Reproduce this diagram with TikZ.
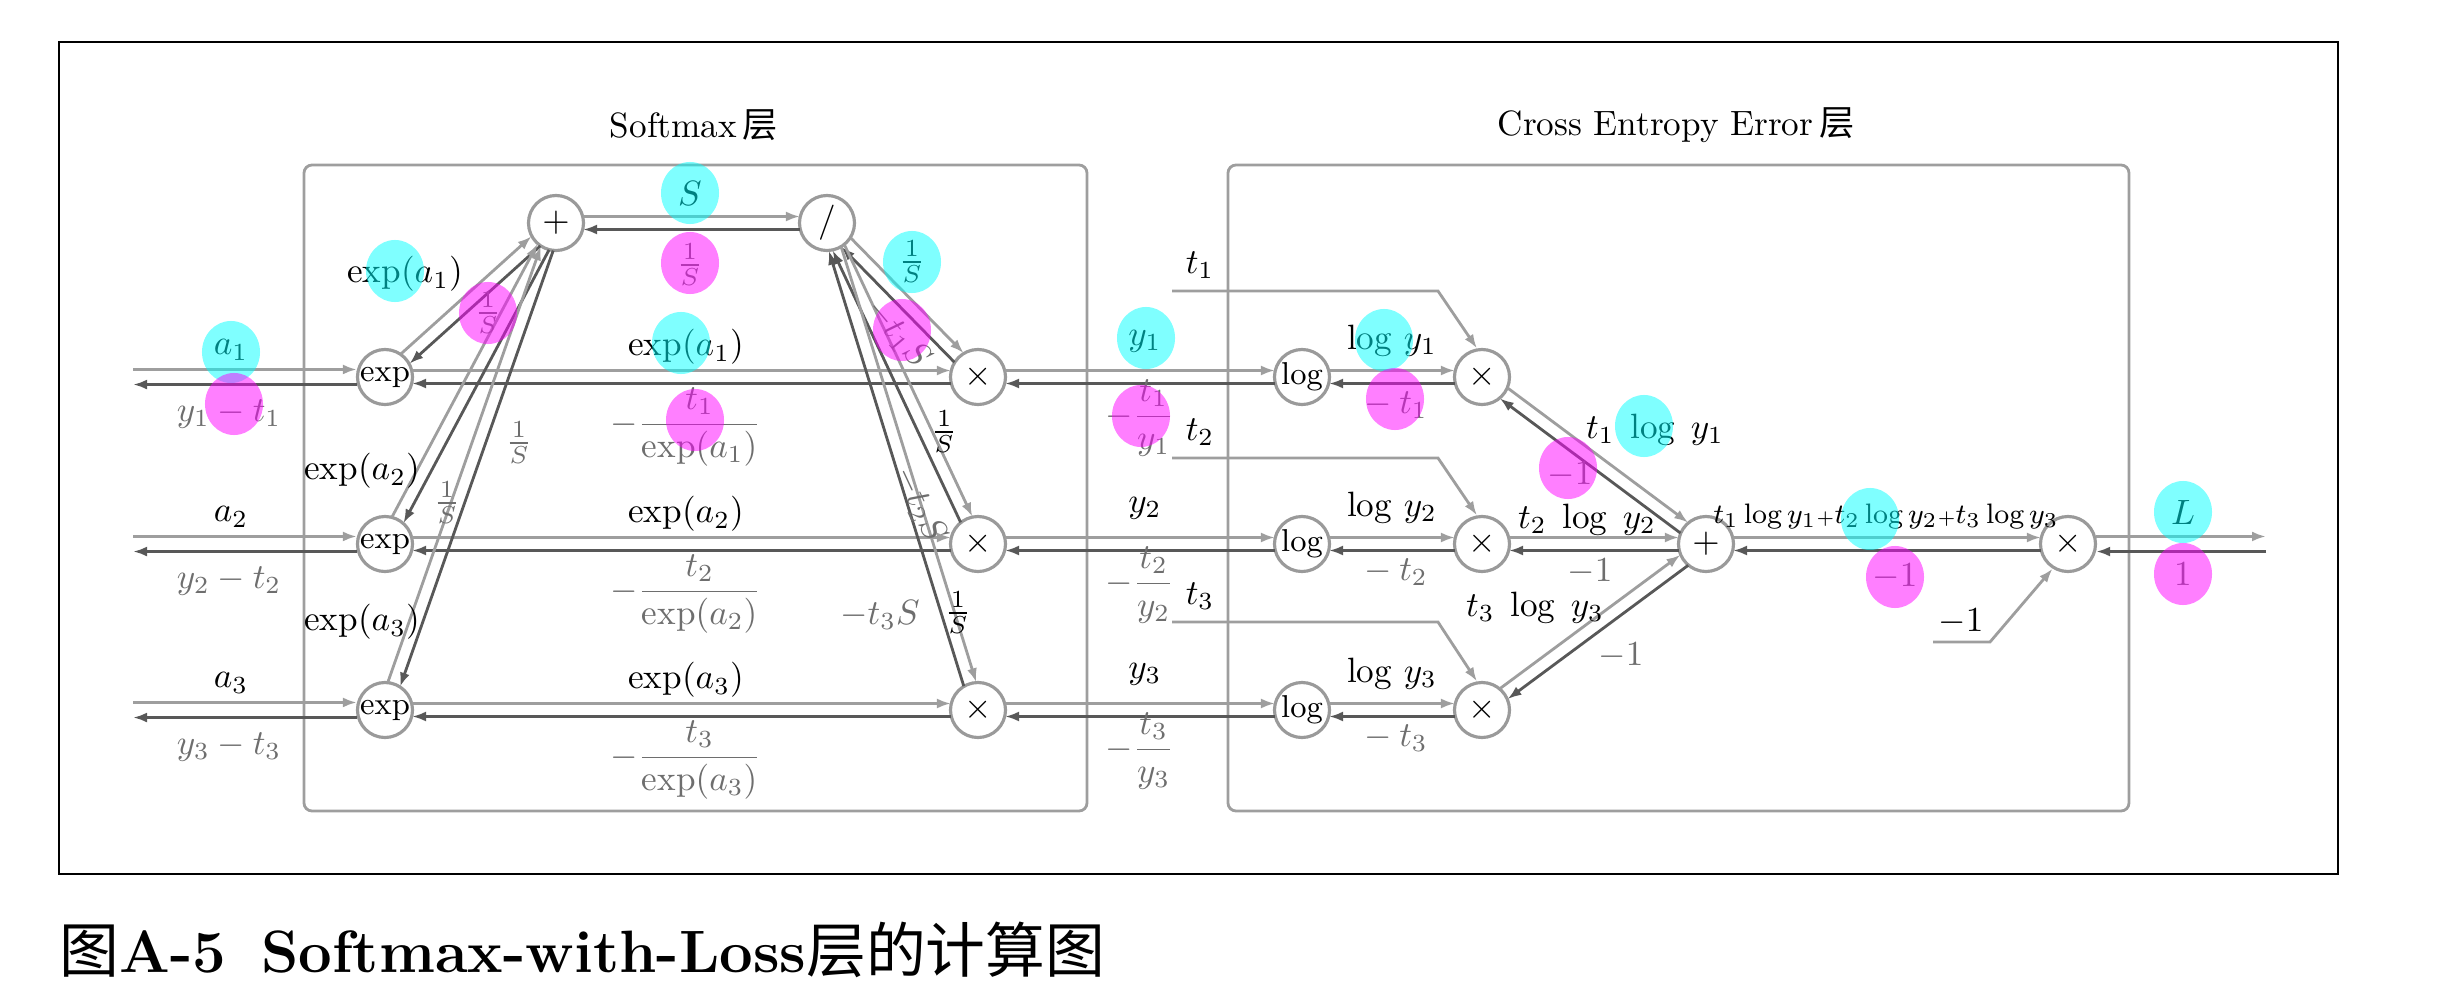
\documentclass[tikz,border=0pt]{standalone}
\usepackage{amsmath}
\usepackage{fontspec}
\newfontfamily\cjk{Noto Sans CJK SC}
\usetikzlibrary{arrows.meta,calc}
\definecolor{fwdgray}{HTML}{9E9E9E}
\definecolor{bwdgray}{HTML}{585858}
\definecolor{txtgray}{HTML}{6E6E6E}
\definecolor{nodegray}{HTML}{9A9A9A}
\definecolor{hlcyan}{RGB}{0,255,255}
\definecolor{hlmag}{RGB}{255,0,255}
\newcommand\flowgap{0.065cm}
% forward / backward pair between two nodes, offset to the left of the direction
\newcommand\fwdline[2]{\draw[fwd,linked] ($(#1)!\flowgap!90:(#2)$) -- ($(#2)!\flowgap!-90:(#1)$);}
\newcommand\bwdline[2]{\draw[bwd,linked] ($(#1)!\flowgap!90:(#2)$) -- ($(#2)!\flowgap!-90:(#1)$);}
\tikzset{
  op/.style={circle,draw=nodegray,line width=0.9pt,fill=white,minimum size=0.55cm,inner sep=0pt},
  flow/.style={line width=0.8pt,-{Latex[length=1.4mm,width=1mm]}},
  fwd/.style={flow,color=fwdgray},
  bwd/.style={flow,color=bwdgray},
  linked/.style={shorten <=0.27cm,shorten >=0.27cm},
  fl/.style={text=black,inner sep=1pt},
  bl/.style={text=txtgray,inner sep=1pt},
  layerbox/.style={draw=fwdgray,line width=0.8pt,rounded corners=0.08cm},
  cyanblob/.style={fill=hlcyan,fill opacity=0.5},
  magblob/.style={fill=hlmag,fill opacity=0.5}
}
\begin{document}
\begin{tikzpicture}[x=0.01cm,y=-0.01cm]
\useasboundingbox (0,0) rectangle (2444,1000);
\draw[black,line width=0.7pt] (59,42) rectangle (2338,874);
% layers
\draw[layerbox] (304,165) rectangle (1087,811);
\draw[layerbox] (1228,165) rectangle (2129,811);
\node (tsoft) at (694,125) {Softmax\,{\cjk 层}};
\node (tce) at (1676,125) {Cross Entropy Error\,{\cjk 层}};
% nodes
\node[op] (plus) at (556,223) {$+$};
\node[op] (div) at (827,223) {$/$};
\foreach \i/\y in {1/377,2/544,3/710}{
  \node[op] (exp\i) at (385,\y) {\small exp};
  \node[op] (mul\i) at (978,\y) {$\times$};
  \node[op] (log\i) at (1302,\y) {\small log};
  \node[op] (cm\i) at (1482,\y) {$\times$};
}
\node[op] (sum) at (1706,544) {$+$};
\node[op] (loss) at (2068,544) {$\times$};
% connectors
\foreach \i in {1,2,3}{
  \fwdline{exp\i}{plus} \bwdline{plus}{exp\i}
  \fwdline{exp\i}{mul\i} \bwdline{mul\i}{exp\i}
  \fwdline{div}{mul\i} \bwdline{mul\i}{div}
  \fwdline{mul\i}{log\i} \bwdline{log\i}{mul\i}
  \fwdline{log\i}{cm\i} \bwdline{cm\i}{log\i}
  \fwdline{cm\i}{sum} \bwdline{sum}{cm\i}
}
\fwdline{plus}{div} \bwdline{div}{plus}
\fwdline{sum}{loss} \bwdline{loss}{sum}
\foreach \i/\y/\ty in {1/377/291,2/544/458,3/710/622}{
  \coordinate (in\i) at (133,\y);
  \draw[fwd] (in\i |- exp\i.165) -- (exp\i.165);
  \draw[bwd] (exp\i.195) -- (in\i |- exp\i.195);
  \coordinate (ts\i) at (1172,\ty);
  \coordinate (tc\i) at (1438,\ty);
  \draw[fwd] (ts\i) -- (tc\i) -- (cm\i.100);
  % row labels
  \node[fl] (la\i) at (231,\y-27) {$a_\i$};
  \node[bl] (ly\i) at (229,\y+37) {$y_\i-t_\i$};
  \node[fl] (fx\i) at (686,\y-30) {$\exp(a_\i)$};
  \node[bl] (bx\i) at (686,\y+50) {$-\dfrac{t_\i}{\exp(a_\i)}$};
  \node[fl] (fy\i) at (1145,\y-36) {$y_\i$};
  \node[bl] (by\i) at (1140,\y+41) {$-\dfrac{t_\i}{y_\i}$};
  \node[fl] (fl\i) at (1392,\y-36) {$\log\,y_\i$};
  \node[bl] (bt\i) at (1392,\y+28) {${}-t_\i$};
  \node[fl] (lt\i) at (1200,\ty-26) {$t_\i$};
}
\coordinate (ms) at (1933,642);
\coordinate (mc) at (1990,642);
\draw[fwd] (ms) -- (mc) -- (loss.238);
\coordinate (out) at (2266,537);
\draw[fwd] (loss.15) -- (out |- loss.15);
\draw[bwd] (out |- loss.-15) -- (loss.-15);
% labels
\node[fl] (fe1) at (405,274) {$\exp(a_1)$};
\node[bl] (be1) at (488,313) {$\frac{1}{S}$};
\node[fl] (fe2) at (362,471) {$\exp(a_2)$};
\node[bl] (be2) at (447,503) {$\frac{1}{S}$};
\node[fl] (fe3) at (362,622) {$\exp(a_3)$};
\node[bl] (be3) at (519,443) {$\frac{1}{S}$};
\node[fl] (fS) at (690,193) {$S$};
\node[bl] (bS) at (690,265) {$\frac{1}{S}$};
\node[fl] (fd1) at (912,262) {$\frac{1}{S}$};
\node[bl,rotate=-50,inner sep=0pt] (bd1) at (898,334) {$-t_1S$};
\node[fl] (fd2) at (944,432) {$\frac{1}{S}$};
\node[bl,rotate=-65,inner sep=0pt] (bd2) at (920,505) {$-t_2S$};
\node[fl] (fd3) at (958,613) {$\frac{1}{S}$};
\node[bl] (bd3) at (880,615) {$-t_3S$};
\node[fl] (fc1) at (1655,430) {$t_1\;\log\; y_1$};
\node[bl] (bc1) at (1570,475) {$-1$};
\node[fl] (fc2) at (1587,520) {$t_2\;\log\; y_2$};
\node[bl] (bc2) at (1590,572) {$-1$};
\node[fl] (fc3) at (1535,608) {$t_3\;\log\; y_3$};
\node[bl] (bc3) at (1621,656) {$-1$};
\node[fl] (fs) at (1886,517) {\footnotesize$t_1\log y_1{\scriptscriptstyle+}t_2\log y_2{\scriptscriptstyle+}t_3\log y_3$};
\node[bl] (bs) at (1895,577) {$-1$};
\node[fl] (lm) at (1961,622) {$-1$};
\node[fl] (fL) at (2183,512) {$L$};
\node[bl] (b1) at (2183,574) {$1$};
% highlights
\foreach \x/\y in {231/352,395/271,690/193,681/343,912/262,1146/338,1384/340,1644/426,1870/519,2183/512}
  \fill[cyanblob] (\x,\y) ellipse [x radius=0.29cm,y radius=0.31cm];
\foreach \x/\y in {234/404,488/313,690/263,695/420,902/330,1141/416,1395/399,1568/468,1895/577,2183/574}
  \fill[magblob] (\x,\y) ellipse [x radius=0.29cm,y radius=0.31cm];
% caption
\node[anchor=west,inner sep=0pt] (cap) at (59,950) {\fontsize{17}{20}\selectfont\bfseries{\mdseries\cjk 图}A-5\hspace{0.35cm}Softmax-with-Loss{\mdseries\cjk 层的计算图}};
\end{tikzpicture}
\end{document}
